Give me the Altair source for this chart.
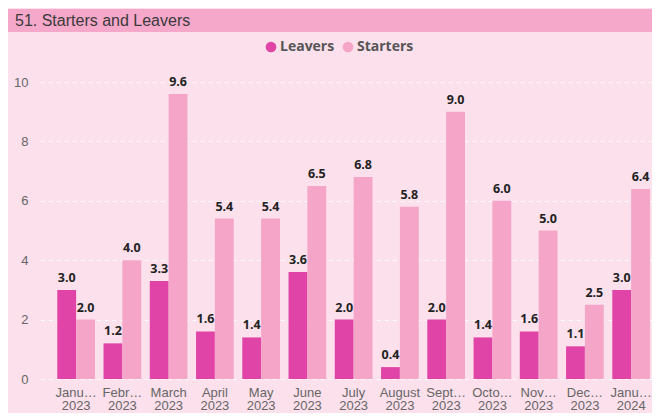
import altair as alt
import pandas as pd

months = ["Janu…\n2023", "Febr…\n2023", "March\n2023", "April\n2023", "May\n2023",
          "June\n2023", "July\n2023", "August\n2023", "Sept…\n2023", "Octo…\n2023",
          "Nov…\n2023", "Dec…\n2023", "Janu…\n2024"]
leavers = [3.0, 1.2, 3.3, 1.6, 1.4, 3.6, 2.0, 0.4, 2.0, 1.4, 1.6, 1.1, 3.0]
starters = [2.0, 4.0, 9.6, 5.4, 5.4, 6.5, 6.8, 5.8, 9.0, 6.0, 5.0, 2.5, 6.4]
series = ["Leavers", "Starters"]
colors = ["#E044A7", "#F5A5C8"]
title_text = "51. Starters and Leavers"

rows = []
for m, l, s in zip(months, leavers, starters):
    rows.append({"month": m, "series": "Leavers", "value": l})
    rows.append({"month": m, "series": "Starters", "value": s})
df = pd.DataFrame(rows)
df["label"] = df["value"].map(lambda v: f"{v:.1f}")

W, H = 612, 297
PANEL = "#FCE0EC"
BAR = "#F5A8CA"

extent = alt.Chart(pd.DataFrame({"k": [0]})).mark_rect(opacity=0).encode(
    x=alt.value(-32), x2=alt.value(612), y=alt.value(-74), y2=alt.value(329))
titlebar = alt.Chart(pd.DataFrame({"k": [0]})).mark_rect(color=BAR).encode(
    x=alt.value(-32), x2=alt.value(612), y=alt.value(-73), y2=alt.value(-50))
title = alt.Chart(pd.DataFrame({"t": [title_text]})).mark_text(
    align="left", baseline="alphabetic", font="Liberation Sans", fontSize=16, color="#3a3a3a"
).encode(x=alt.value(-25), y=alt.value(-56), text="t:N")

xenc = alt.X("month:N", sort=months, title=None,
             scale=alt.Scale(paddingInner=0.185, paddingOuter=0.2085, align=0.896),
             axis=alt.Axis(labelAngle=0, labelExpr="split(datum.label, '\\n')", labelLimit=0,
                           labelFontSize=13, labelColor="#666666", labelFont="Liberation Sans",
                           labelPadding=7, labelLineHeight=13.5, ticks=False, domain=False,
                           grid=False, zindex=1))
base = alt.Chart(df).encode(
    x=xenc,
    xOffset=alt.XOffset("series:N", sort=series),
)
bars = base.mark_bar().encode(
    y=alt.Y("value:Q", title=None, scale=alt.Scale(domain=[0, 10]),
            axis=alt.Axis(values=[0, 2, 4, 6, 8, 10], labelFontSize=13, labelColor="#666666",
                          labelFont="Liberation Sans", labelPadding=12, ticks=False,
                          domain=False, gridColor="#FFFFFF", gridOpacity=0.8,
                          gridDash=[4, 4], gridWidth=1)),
    color=alt.Color("series:N", sort=series, scale=alt.Scale(domain=series, range=colors),
                    legend=alt.Legend(title=None, orient="none", direction="horizontal",
                                      legendX=224, legendY=-42, symbolType="circle",
                                      symbolSize=115, symbolStrokeWidth=0,
                                      labelFont="Open Sans", labelFontWeight="bold",
                                      labelFontSize=14, labelColor="#555555",
                                      columnPadding=6, labelOffset=2)),
)
labels = base.mark_text(baseline="bottom", dy=-5, font="Open Sans", fontWeight="bold",
                        fontSize=12.5, color="#222222").encode(
    y=alt.Y("value:Q"), text="label:N")

chart = alt.layer(extent, titlebar, title, bars, labels).properties(
    width=W, height=H, padding=0, background=PANEL
).configure_view(stroke=None)

chart.save("out.html", embed_options={"renderer": "svg", "actions": False})
